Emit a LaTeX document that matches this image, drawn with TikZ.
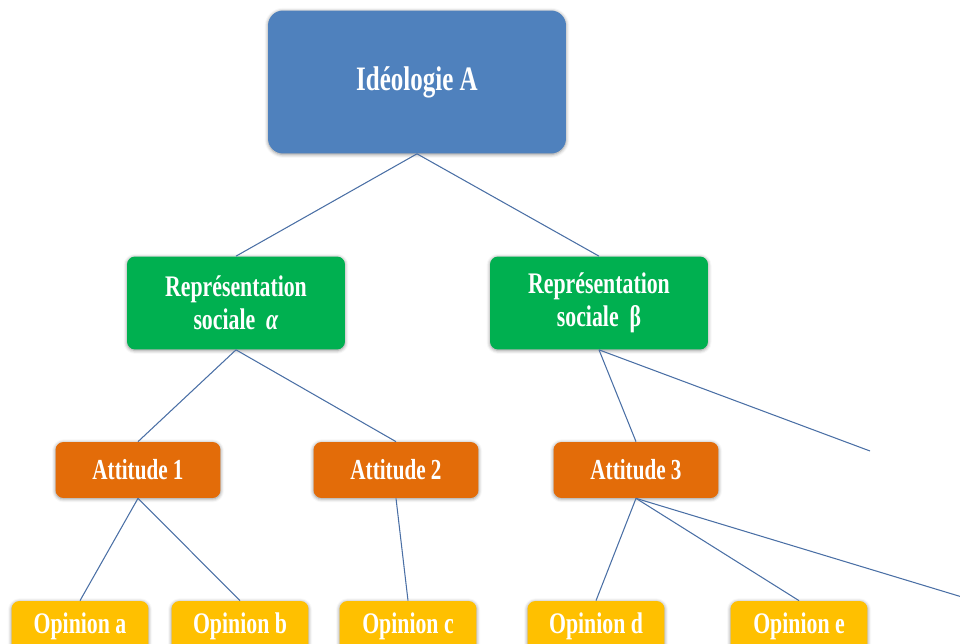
\documentclass[tikz,border=0pt]{standalone}
\usepackage{fontspec}
\setmainfont[FakeStretch=0.73]{Liberation Serif}
\usetikzlibrary{shapes,shadows.blur}

\definecolor{ideoblue}{HTML}{4F81BD}
\definecolor{reprgreen}{HTML}{00B050}
\definecolor{attiorange}{HTML}{E36C09}
\definecolor{opinyellow}{HTML}{FFC000}
\definecolor{linkblue}{HTML}{4A6FA5}

\begin{document}
\begin{tikzpicture}[x=0.02cm,y=-0.02cm,
    box/.style={rounded corners=0.16cm, text=white, align=center, inner sep=0pt,
        blur shadow={shadow xshift=0pt, shadow yshift=-0.5pt, shadow blur radius=2pt, shadow opacity=45}},
    ideo/.style={box, fill=ideoblue, minimum width=5.96cm, minimum height=2.86cm, rounded corners=0.3cm,
        font=\bfseries\fontsize{19.5}{22}\selectfont},
    repr/.style={box, fill=reprgreen, minimum width=4.36cm, minimum height=1.86cm,
        font=\bfseries\fontsize{17}{18.5}\selectfont},
    atti/.style={box, fill=attiorange, minimum width=3.3cm, minimum height=1.12cm,
        font=\bfseries\fontsize{16.5}{18}\selectfont},
    opin/.style={box, fill=opinyellow, minimum width=2.74cm, minimum height=1.0cm,
        font=\bfseries\fontsize{17}{18}\selectfont},
    link/.style={draw=linkblue, line width=0.6pt}]
    \useasboundingbox (0,0) rectangle (960,644);
    \clip (0,0) rectangle (960,644);

    % levels: ideologie, representations, attitudes, opinions
    \node[ideo] (ideo) at (417,82) {Idéologie A};
    \node[repr] (repa) at (236,303) {Représentation\\sociale~~\textit{α}};
    \node[repr] (repb) at (599,303) {Représentation\\sociale~~β};
    \node[atti] (att1) at (138,470) {Attitude 1};
    \node[atti] (att2) at (396,470) {Attitude 2};
    \node[atti] (att3) at (636,470) {Attitude 3};
    \foreach \name/\x in {a/80, b/240, c/408, d/596, e/799} {
        \node[opin] (op\name) at (\x,626) {Opinion \name};
    }
    \coordinate (endb) at (870,451);
    \coordinate (endc) at (962,597);

    \draw[link] (ideo.south) -- (repa.north);
    \draw[link] (ideo.south) -- (repb.north);
    \draw[link] (repa.south) -- (att1.north);
    \draw[link] (repa.south) -- (att2.north);
    \draw[link] (repb.south) -- (att3.north);
    \draw[link] (repb.south) -- (endb);
    \draw[link] (att1.south) -- (opa.north);
    \draw[link] (att1.south) -- (opb.north);
    \draw[link] (att2.south) -- (opc.north);
    \foreach \op in {opd.north, ope.north, endc} {
        \draw[link] (att3.south) -- (\op);
    }
\end{tikzpicture}
\end{document}
